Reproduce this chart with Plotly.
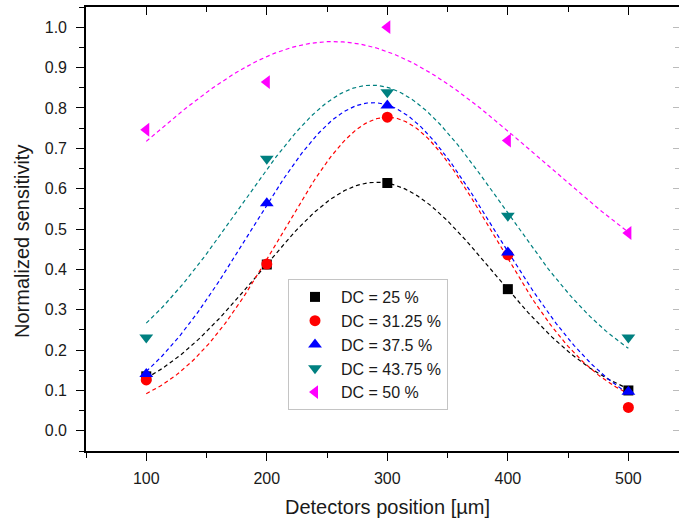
import numpy as np
import plotly.graph_objects as go

# Detector positions (µm) and normalized sensitivity for each duty cycle
positions = [100, 200, 300, 400, 500]
dc_labels = ["DC = 25 %", "DC = 31.25 %", "DC = 37.5 %", "DC = 43.75 %", "DC = 50 %"]
sens_dc25 = [0.135, 0.412, 0.614, 0.351, 0.100]
sens_dc3125 = [0.126, 0.413, 0.777, 0.436, 0.058]
sens_dc375 = [0.141, 0.564, 0.806, 0.442, 0.097]
sens_dc4375 = [0.231, 0.674, 0.839, 0.533, 0.231]
sens_dc50 = [0.746, 0.864, 1.000, 0.719, 0.490]

series = [sens_dc25, sens_dc3125, sens_dc375, sens_dc4375, sens_dc50]
colors = ["#000000", "#FF0000", "#0000FF", "#008080", "#FF00FF"]
symbols = ["square", "circle", "triangle-up", "triangle-down", "triangle-left"]
sizes = [10, 11, 12, 12, 12]

x_ticks = [100, 200, 300, 400, 500]
y_ticks = [round(0.1 * i, 1) for i in range(11)]
y_tick_text = [f"{v:.1f}" for v in y_ticks]

X_RANGE = [50, 542]
Y_RANGE = [-0.05, 1.05]
FONT = "Liberation Sans, Arial, sans-serif"


def gauss_fit(x, y):
    """Least-squares Gaussian fit y = y0 + A*exp(-(x-xc)^2 / (2 w^2))."""
    x = np.asarray(x, float)
    y = np.asarray(y, float)
    xc = np.arange(150.0, 450.01, 1.0)[:, None, None]
    w = np.arange(40.0, 600.01, 1.0)[None, :, None]
    g = np.exp(-((x - xc) ** 2) / (2 * w ** 2))
    gm = g.mean(-1, keepdims=True)
    ym = y.mean()
    dg = g - gm
    a = (dg * (y - ym)).sum(-1) / np.maximum((dg ** 2).sum(-1), 1e-15)
    y0 = ym - a * gm[..., 0]
    resid = y - (y0[..., None] + a[..., None] * g)
    sse = (resid ** 2).sum(-1)
    i, j = np.unravel_index(np.argmin(sse), sse.shape)
    return xc[i, 0, 0], w[0, j, 0], a[i, j], y0[i, j]


fig = go.Figure()
xs = np.linspace(min(positions), max(positions), 241)

# Dashed Gaussian fit curves
for vals, col in zip(series, colors):
    xc, w, a, y0 = gauss_fit(positions, vals)
    ys = y0 + a * np.exp(-((xs - xc) ** 2) / (2 * w ** 2))
    fig.add_trace(go.Scatter(
        x=xs, y=ys, mode="lines", showlegend=False, hoverinfo="skip",
        line=dict(color=col, width=1.2, dash="4px,3px"),
    ))

# Measured points
for vals, col, sym, sz, name in zip(series, colors, symbols, sizes, dc_labels):
    fig.add_trace(go.Scatter(
        x=positions, y=vals, mode="markers", name=name,
        marker=dict(symbol=sym, size=sz, color=col, line=dict(width=0)),
    ))

# Helper trace so the mirrored top/right axes are drawn
fig.add_trace(go.Scatter(x=[None], y=[None], xaxis="x2", yaxis="y2",
                         showlegend=False, hoverinfo="skip"))

axis_common = dict(showgrid=False, zeroline=False,
                   linecolor="black", linewidth=1.6, tickcolor="black",
                   tickwidth=1.3)

fig.update_layout(
    width=679, height=522,
    margin=dict(l=86, r=0, t=7, b=71),
    paper_bgcolor="white", plot_bgcolor="white",
    font=dict(family=FONT, size=16, color="#1a1a1a"),
    xaxis=dict(
        range=X_RANGE, tickvals=x_ticks, ticks="outside", ticklen=8,
        showline=True,
        minor=dict(dtick=50, tick0=50, ticks="outside", ticklen=5,
                   tickcolor="black", tickwidth=1.3),
        tickfont=dict(size=16), ticklabelstandoff=4, **axis_common,
    ),
    yaxis=dict(
        range=Y_RANGE, tickvals=y_ticks, ticktext=y_tick_text,
        ticks="outside", ticklen=8, showline=True,
        minor=dict(dtick=0.05, tick0=-0.05, ticks="outside", ticklen=5,
                   tickcolor="black", tickwidth=1.3),
        tickfont=dict(size=16), ticklabelstandoff=6, **axis_common,
    ),
    xaxis2=dict(
        overlaying="x", side="top", anchor="y", range=X_RANGE,
        tickvals=x_ticks, ticks="inside", ticklen=8, showticklabels=False,
        showline=True,
        minor=dict(dtick=50, tick0=50, ticks="inside", ticklen=5,
                   tickcolor="black", tickwidth=1.3),
        **axis_common,
    ),
    yaxis2=dict(
        overlaying="y", side="right", anchor="x", range=Y_RANGE,
        tickvals=y_ticks, ticks="inside", ticklen=6, showticklabels=False,
        showline=False,
        minor=dict(dtick=0.05, tick0=-0.05, ticks="inside", ticklen=4,
                   tickcolor="#bbbbbb", tickwidth=1),
        **{**axis_common, "tickcolor": "#bbbbbb", "tickwidth": 1},
    ),
    legend=dict(
        x=(288 - 86) / 593, y=(451 - 279) / 444, xanchor="left", yanchor="top",
        bgcolor="white", bordercolor="#c4c4c4", borderwidth=1,
        font=dict(size=16, color="#1a1a1a"), itemwidth=42,
    ),
    showlegend=True,
    annotations=[
        dict(text="Detectors position [µm]", xref="paper", yref="paper",
             x=(387 - 86) / 593, y=(451 - 507) / 444, xanchor="center",
             yanchor="middle", showarrow=False, font=dict(size=20)),
        dict(text="Normalized sensitivity", xref="paper", yref="paper",
             x=(22 - 86) / 593, y=(451 - 242) / 444, xanchor="center",
             yanchor="middle", textangle=-90, showarrow=False,
             font=dict(size=20)),
    ],
)

fig.write_html("out.html")
